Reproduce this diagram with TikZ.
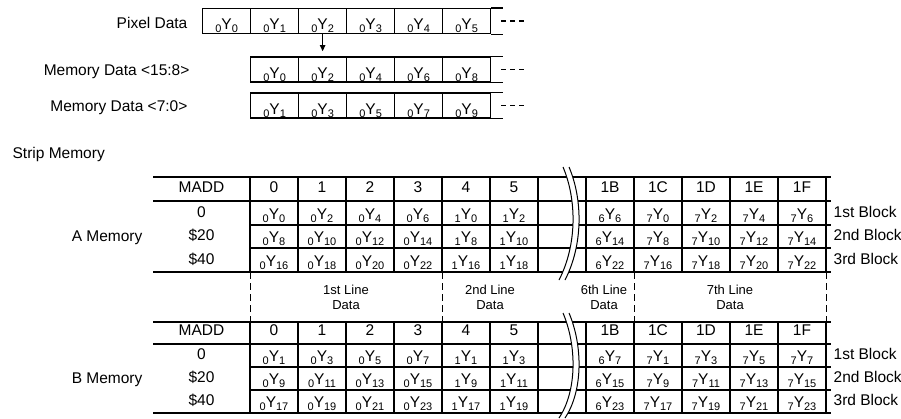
\documentclass[tikz,border=0pt]{standalone}
\usepackage{fontspec}
\setmainfont{Liberation Sans}
\usetikzlibrary{arrows.meta}
\newcommand\ysubf{\fontsize{11}{12}\selectfont}
\newcommand\yy[2]{\raisebox{-3pt}{\ysubf #1}Y\raisebox{-3pt}{\ysubf #2}}
\newcommand\tgrid[5]{%
  \draw (153,#1) -- (831,#1) (153,#2) -- (831,#2) (250,#3) -- (831,#3) (250,#4) -- (831,#4) (153,#5) -- (831,#5);
  \foreach \xx in {250,298,346,394,442,490,538,586,634,682,730,778,826} \draw (\xx,#1) -- (\xx,#5);
}
\begin{document}
\begin{tikzpicture}[x=1pt,y=-1pt,font=\fontsize{15.5}{18}\selectfont,line width=1.25pt,
  cell/.style={anchor=base,inner sep=0pt},
  tbox/.style={draw,minimum width=48pt,minimum height=25pt,inner sep=0pt,text height=17pt,text depth=0pt,anchor=west},
  lab/.style={anchor=base east,inner sep=0pt},
  lablw/.style={anchor=base west,inner sep=0pt},
  small/.style={font=\fontsize{13}{15}\selectfont,align=center,inner sep=0pt,anchor=base},
  dsh/.style={dash pattern=on 7pt off 4pt,line width=1pt},
  dots3/.style={dash pattern=on 5pt off 4pt,line width=1.4pt},
  brk/.style={line width=1pt}]
\useasboundingbox (0,0) rectangle (901,418);

% ---------- top section ----------
\node[lab] (lpix) at (188,28) {Pixel Data};
\node[lab] (lm1) at (190,75.5) {Memory Data <15:8>};
\node[lab] (lm2) at (188,111) {Memory Data <7:0>};
\foreach \i in {0,...,5} \node[tbox] (p\i) at ({202+48*\i},21) {\yy{0}{\i}};
\foreach \s [count=\i] in {0,2,4,6,8} \node[tbox] (m\i) at ({202+48*\i},69.5) {\yy{0}{\s}};
\foreach \s [count=\i] in {1,3,5,7,9} \node[tbox] (n\i) at ({202+48*\i},105.5) {\yy{0}{\s}};
\foreach \e in {p5,m5,n5} {
  \draw (\e.north east) -- ++(12,0);
  \draw (\e.south east) -- ++(12,0);
  \draw[dots3] ([xshift=10pt]\e.east) -- ++(23,0);
}
\draw[line width=1pt,-{Triangle[length=6pt,width=5.5pt]}] (p2.south) -- ++(0,17);

\node[lablw] (strip) at (12,158) {Strip Memory};

% ---------- A memory ----------
\tgrid{177}{201}{225}{248}{272}
\node[cell] (A-h0) at (201.5,192) {MADD};
\foreach \h [count=\i] in {0,1,2,3,4,5} \node[cell] (A-h\i) at ({226+48*\i},192) {\h};
\foreach \h [count=\i] in {1B,1C,1D,1E,1F} \node[cell] (A-g\i) at ({562+48*\i},192) {\h};
\node[cell] (A-l1) at (201.5,217) {0};
\node[cell] (A-l2) at (201.5,240) {\$20};
\node[cell] (A-l3) at (201.5,264) {\$40};
\node[lab] (Aname) at (143,241) {A Memory};
\foreach \p/\s [count=\i] in {0/0,0/2,0/4,0/6,1/0,1/2} \node[cell] (A-1-\i) at ({226+48*\i},219.5) {\yy{\p}{\s}};
\foreach \p/\s [count=\i] in {6/6,7/0,7/2,7/4,7/6} \node[cell] (A-1-r\i) at ({562+48*\i},219.5) {\yy{\p}{\s}};
\foreach \p/\s [count=\i] in {0/8,0/10,0/12,0/14,1/8,1/10} \node[cell] (A-2-\i) at ({226+48*\i},242.5) {\yy{\p}{\s}};
\foreach \p/\s [count=\i] in {6/14,7/8,7/10,7/12,7/14} \node[cell] (A-2-r\i) at ({562+48*\i},242.5) {\yy{\p}{\s}};
\foreach \p/\s [count=\i] in {0/16,0/18,0/20,0/22,1/16,1/18} \node[cell] (A-3-\i) at ({226+48*\i},266.5) {\yy{\p}{\s}};
\foreach \p/\s [count=\i] in {6/22,7/16,7/18,7/20,7/22} \node[cell] (A-3-r\i) at ({562+48*\i},266.5) {\yy{\p}{\s}};
\node[lablw] (A-b1) at (833,217) {1st Block};
\node[lablw] (A-b2) at (833,240) {2nd Block};
\node[lablw] (A-b3) at (833,264) {3rd Block};
\fill[white] (563,167) .. controls (577,200) and (577,245) .. (559,280) -- (565,280) .. controls (583,245) and (583,200) .. (569,167) -- cycle;
\draw[brk] (563,167) .. controls (577,200) and (577,245) .. (559,280);
\draw[brk] (569,167) .. controls (583,200) and (583,245) .. (565,280);

% ---------- line labels ----------
\foreach \xx in {250,442,634,826} \draw[dsh] (\xx,272) -- (\xx,322);
\node[small] (L1) at (346,309) {1st Line\\Data};
\node[small] (L2) at (490,309) {2nd Line\\Data};
\node[small] (L6) at (604,309) {6th Line\\Data};
\node[small] (L7) at (730,309) {7th Line\\Data};

% ---------- B memory ----------
\tgrid{322}{344}{367}{390}{413}
\node[cell] (B-h0) at (201.5,335) {MADD};
\foreach \h [count=\i] in {0,1,2,3,4,5} \node[cell] (B-h\i) at ({226+48*\i},335) {\h};
\foreach \h [count=\i] in {1B,1C,1D,1E,1F} \node[cell] (B-g\i) at ({562+48*\i},335) {\h};
\node[cell] (B-l1) at (201.5,359) {0};
\node[cell] (B-l2) at (201.5,382) {\$20};
\node[cell] (B-l3) at (201.5,405) {\$40};
\node[lab] (Bname) at (143,383) {B Memory};
\foreach \p/\s [count=\i] in {0/1,0/3,0/5,0/7,1/1,1/3} \node[cell] (B-1-\i) at ({226+48*\i},361.5) {\yy{\p}{\s}};
\foreach \p/\s [count=\i] in {6/7,7/1,7/3,7/5,7/7} \node[cell] (B-1-r\i) at ({562+48*\i},361.5) {\yy{\p}{\s}};
\foreach \p/\s [count=\i] in {0/9,0/11,0/13,0/15,1/9,1/11} \node[cell] (B-2-\i) at ({226+48*\i},384.5) {\yy{\p}{\s}};
\foreach \p/\s [count=\i] in {6/15,7/9,7/11,7/13,7/15} \node[cell] (B-2-r\i) at ({562+48*\i},384.5) {\yy{\p}{\s}};
\foreach \p/\s [count=\i] in {0/17,0/19,0/21,0/23,1/17,1/19} \node[cell] (B-3-\i) at ({226+48*\i},407.5) {\yy{\p}{\s}};
\foreach \p/\s [count=\i] in {6/23,7/17,7/19,7/21,7/23} \node[cell] (B-3-r\i) at ({562+48*\i},407.5) {\yy{\p}{\s}};
\node[lablw] (B-b1) at (833,359) {1st Block};
\node[lablw] (B-b2) at (833,382) {2nd Block};
\node[lablw] (B-b3) at (833,405) {3rd Block};
\fill[white] (563,313) .. controls (577,346) and (577,391) .. (559,418) -- (565,418) .. controls (583,391) and (583,346) .. (569,313) -- cycle;
\draw[brk] (563,313) .. controls (577,346) and (577,391) .. (559,418);
\draw[brk] (569,313) .. controls (583,346) and (583,391) .. (565,418);
\end{tikzpicture}
\end{document}
